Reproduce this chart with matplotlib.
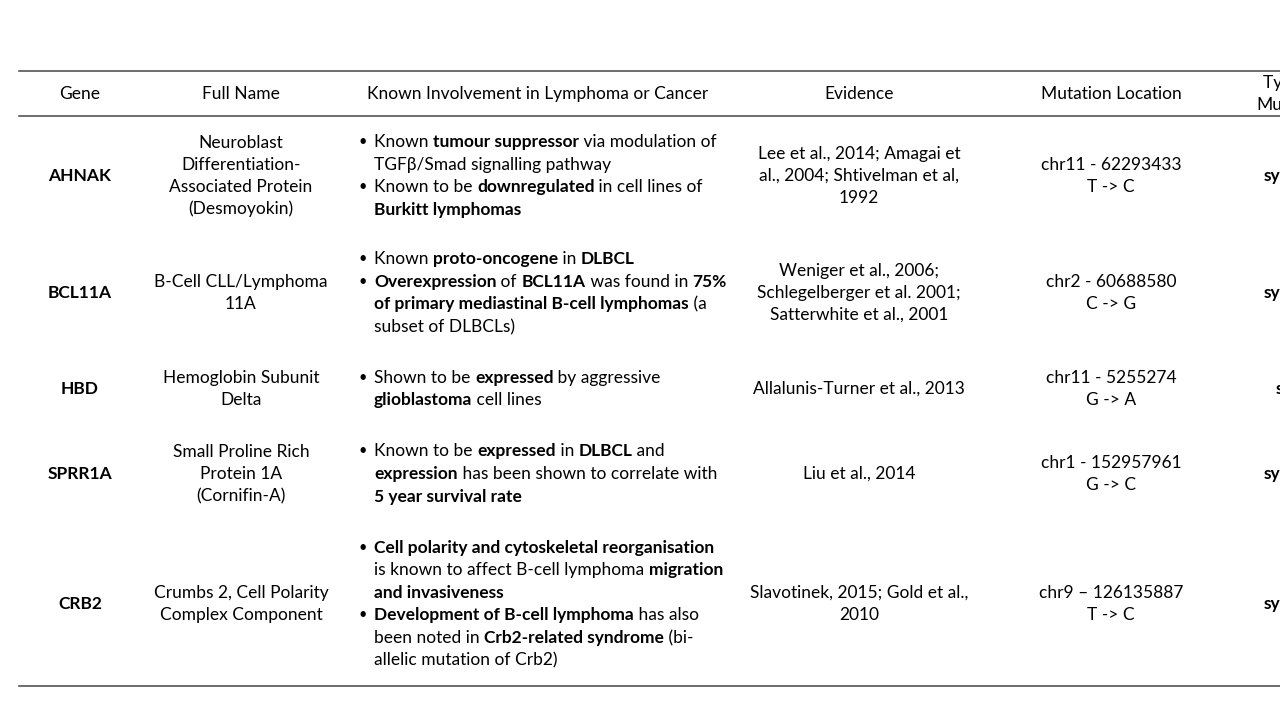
import matplotlib.pyplot as plt

plt.rcParams['font.family'] = ['Lato', 'DejaVu Sans']

headers = ["Gene", "Full Name", "Known Involvement in Lymphoma or Cancer",
           "Evidence", "Mutation Location", "Type of\nMutation"]
genes = ["AHNAK", "BCL11A", "HBD", "SPRR1A", "CRB2"]
full_names = [
    "Neuroblast\nDifferentiation-\nAssociated Protein\n(Desmoyokin)",
    "B-Cell CLL/Lymphoma\n11A",
    "Hemoglobin Subunit\nDelta",
    "Small Proline Rich\nProtein 1A\n(Cornifin-A)",
    "Crumbs 2, Cell Polarity\nComplex Component",
]
# each line: (is_bullet_start, [(text, bold), ...])
involvement = [
    [(True, [("Known ", 0), ("tumour suppressor", 1), (" via modulation of", 0)]),
     (False, [("TGFβ/Smad signalling pathway", 0)]),
     (True, [("Known to be ", 0), ("downregulated", 1), (" in cell lines of", 0)]),
     (False, [("Burkitt lymphomas", 1)])],
    [(True, [("Known ", 0), ("proto-oncogene", 1), (" in ", 0), ("DLBCL", 1)]),
     (True, [("Overexpression", 1), (" of ", 0), ("BCL11A", 1), (" was found in ", 0), ("75%", 1)]),
     (False, [("of primary mediastinal B-cell lymphomas", 1), (" (a", 0)]),
     (False, [("subset of DLBCLs)", 0)])],
    [(True, [("Shown to be ", 0), ("expressed", 1), (" by aggressive", 0)]),
     (False, [("glioblastoma", 1), (" cell lines", 0)])],
    [(True, [("Known to be ", 0), ("expressed", 1), (" in ", 0), ("DLBCL", 1), (" and", 0)]),
     (False, [("expression", 1), (" has been shown to correlate with", 0)]),
     (False, [("5 year survival rate", 1)])],
    [(True, [("Cell polarity and cytoskeletal reorganisation", 1)]),
     (False, [("is known to affect B-cell lymphoma ", 0), ("migration", 1)]),
     (False, [("and invasiveness", 1)]),
     (True, [("Development of B-cell lymphoma", 1), (" has also", 0)]),
     (False, [("been noted in ", 0), ("Crb2-related syndrome", 1), (" (bi-", 0)]),
     (False, [("allelic mutation of Crb2)", 0)])],
]
evidence = [
    "Lee et al., 2014; Amagai et\nal., 2004; Shtivelman et al,\n1992",
    "Weniger et al., 2006;\nSchlegelberger et al. 2001;\nSatterwhite et al., 2001",
    "Allalunis-Turner et al., 2013",
    "Liu et al., 2014",
    "Slavotinek, 2015; Gold et al.,\n2010",
]
locations = ["chr11 - 62293433\nT -> C", "chr2 - 60688580\nC -> G",
             "chr11 - 5255274\nG -> A", "chr1 - 152957961\nG -> C",
             "chr9 \u2013 126135887\nT -> C"]
mut_types = ["synonymous", "synonymous", "stop-gain", "synonymous", "synonymous"]

row_y = [176, 293, 389, 474, 604]
col_x = [80, 241, 358, 859, 1111, 1312]
fs = 12.5
lh = 22.6

fig = plt.figure(figsize=(12.8, 7.2), dpi=100)
ax = fig.add_axes([0, 0, 1, 1])
ax.set_xlim(0, 1280)
ax.set_ylim(720, 0)
ax.axis('off')

for y in [71, 116, 686]:
    ax.plot([19, 1280], [y, y], color='#555555', lw=1.2, clip_on=False)

header_x = [80, 241, 538, 859, 1111, 1292]
for x, h in zip(header_x, headers):
    ax.text(x, 94, h, ha='center', va='center', fontsize=fs, linespacing=1.45)

fig.canvas.draw()
renderer = fig.canvas.get_renderer()
inv = ax.transData.inverted()

for i, y in enumerate(row_y):
    ax.text(col_x[0], y, genes[i], ha='center', va='center', fontsize=fs, fontweight='bold')
    ax.text(col_x[1], y, full_names[i], ha='center', va='center', fontsize=fs, linespacing=1.45)
    ax.text(col_x[3], y, evidence[i], ha='center', va='center', fontsize=fs, linespacing=1.45)
    ax.text(col_x[4], y, locations[i], ha='center', va='center', fontsize=fs, linespacing=1.45)
    ax.text(col_x[5], y, mut_types[i], ha='center', va='center', fontsize=fs,
            fontweight='bold', clip_on=False)
    lines = involvement[i]
    y0 = y - lh * (len(lines) - 1) / 2
    for j, (bullet, segs) in enumerate(lines):
        ly = y0 + j * lh
        if bullet:
            ax.text(col_x[2], ly, "\u2022", ha='left', va='center', fontsize=fs - 2)
        x = col_x[2] + 16
        for txt, bold in segs:
            t = ax.text(x, ly, txt, ha='left', va='center', fontsize=fs,
                        fontweight='bold' if bold else 'normal')
            bb = t.get_window_extent(renderer)
            x = inv.transform((bb.x1, bb.y0))[0]

fig.savefig("out.png", dpi=100)
